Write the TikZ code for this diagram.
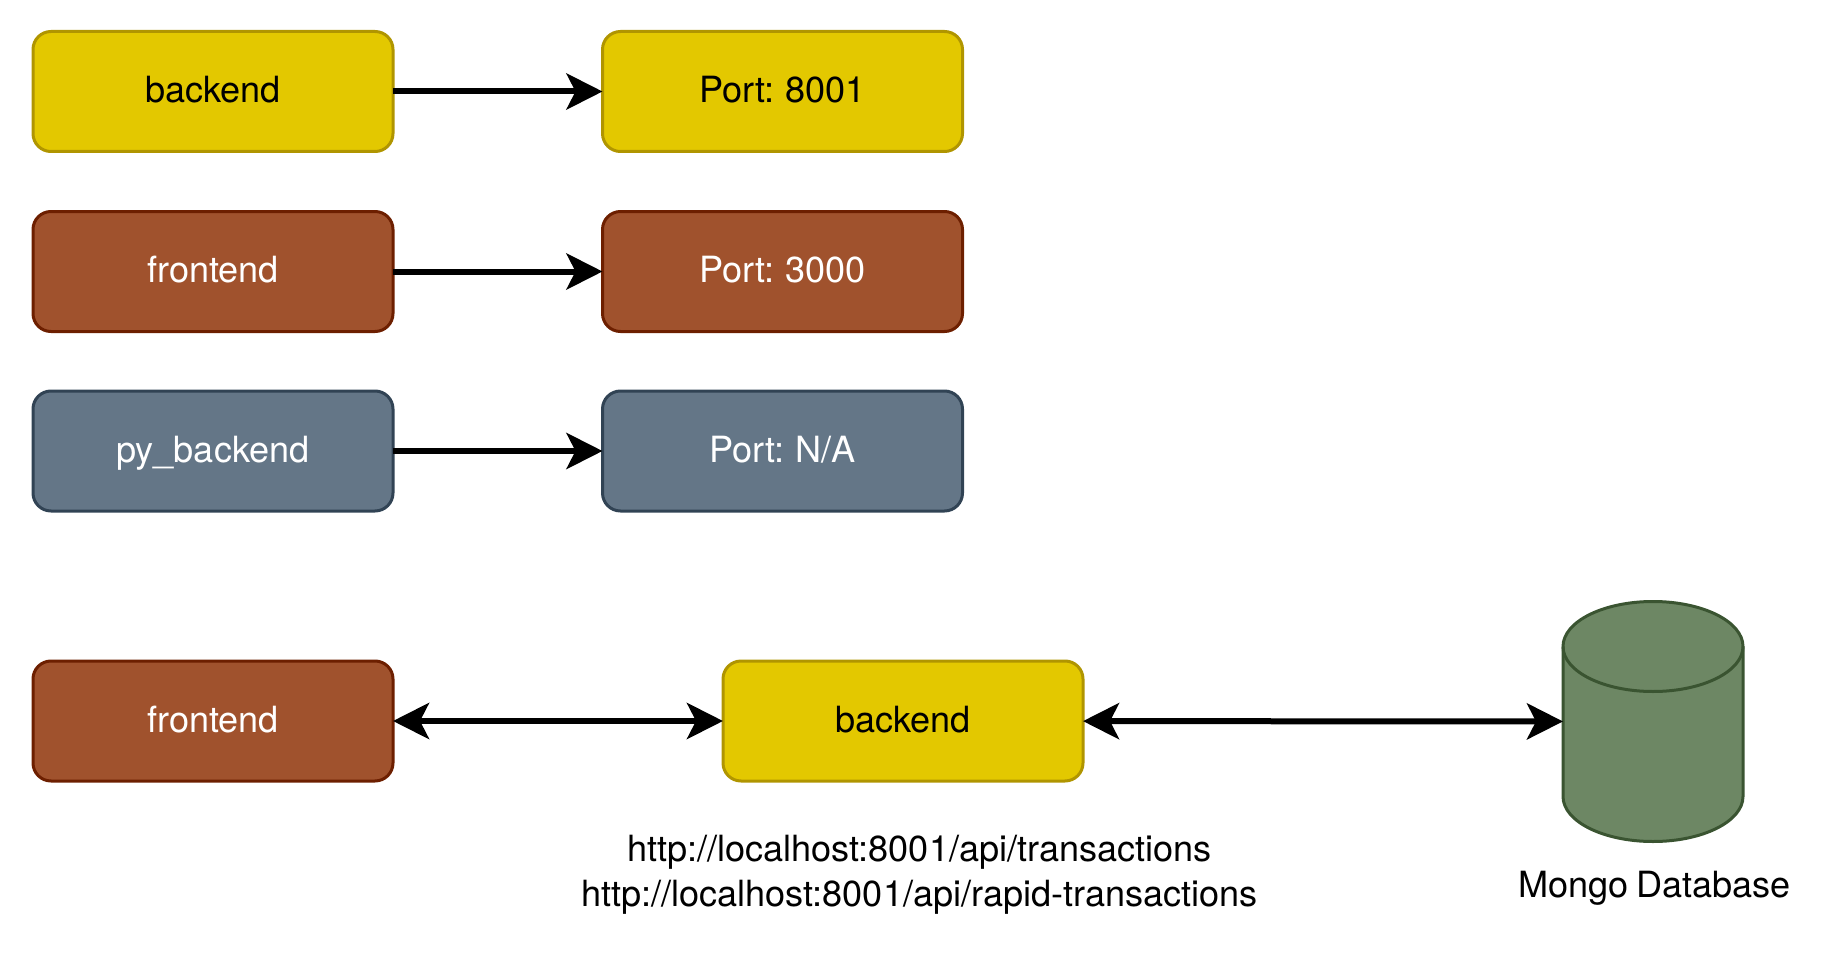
\documentclass[tikz,border=0pt]{standalone}
\usepackage{fontspec}
\setmainfont[WordSpace=0.8]{TeX Gyre Heros}
\usetikzlibrary{arrows.meta}
\definecolor{yellowfill}{HTML}{E3C800}
\definecolor{yellowline}{HTML}{B09500}
\definecolor{brownfill}{HTML}{A0522D}
\definecolor{brownline}{HTML}{6D1F00}
\definecolor{slatefill}{HTML}{647687}
\definecolor{slateline}{HTML}{314354}
\definecolor{greenfill}{HTML}{6D8764}
\definecolor{greenline}{HTML}{3A5431}
\tikzstyle{service}=[draw,line width=1.5pt,rounded corners=9pt,minimum width=180pt,minimum height=60pt,inner sep=0pt,outer sep=0pt,font=\fontsize{18.05}{22}\selectfont,text height=13pt,text depth=2pt]
\tikzstyle{yellowbox}=[service,fill=yellowfill,draw=yellowline,text=black]
\tikzstyle{brownbox}=[service,fill=brownfill,draw=brownline,text=white]
\tikzstyle{slatebox}=[service,fill=slatefill,draw=slateline,text=white]
\tikzstyle{database}=[minimum width=90pt,minimum height=120pt,inner sep=0pt,outer sep=0pt]
\tikzstyle{drum}=[draw=greenline,line width=1.5pt]
\tikzstyle{caption}=[font=\fontsize{18.05}{22.5}\selectfont,align=center,inner sep=0pt]
\tikzstyle{edge}=[draw,line width=3pt,-{Stealth[length=18pt,width=18pt,inset=4.5pt]}]
\tikzstyle{both}=[draw,line width=3pt,{Stealth[length=18pt,width=18pt,inset=4.5pt]}-{Stealth[length=18pt,width=18pt,inset=4.5pt]}]

\begin{document}
\begin{tikzpicture}[x=0.5pt,y=-0.5pt]
    \useasboundingbox (0,0) rectangle (1848,963);
    % First we draw the boxes
    \foreach \pos/\name/\look/\text in {{(213,91.5)/backA/yellowbox/backend}, {(782.5,91.5)/portA/yellowbox/{Port: 8001}},
        {(213,271.5)/frontA/brownbox/frontend}, {(782.5,271.5)/portB/brownbox/{Port: 3000}},
        {(213,451)/pyA/slatebox/py\_backend}, {(782.5,451)/portC/slatebox/{Port: N/A}},
        {(213,721)/frontB/brownbox/frontend}, {(903,721)/backB/yellowbox/backend}}
        \node[\look] (\name) at \pos {\text};
    % The database is a plain node with the drum drawn over it
    \node[database] (mongo) at (1653,721.5) {};
    \path[drum,fill=greenfill] ([yshift=-22.5pt]mongo.north west)
        arc[start angle=180,end angle=0,x radius=45pt,y radius=22.5pt]
        -- ([yshift=22.5pt]mongo.south east)
        arc[start angle=360,end angle=180,x radius=45pt,y radius=22.5pt] -- cycle;
    \path[drum] ([yshift=-22.5pt]mongo.north west)
        arc[start angle=180,end angle=360,x radius=45pt,y radius=22.5pt];
    % Connect boxes with arrows
    \foreach \source/\dest in {backA/portA,frontA/portB,pyA/portC}
        \path[edge] (\source) -- (\dest);
    \foreach \source/\dest in {frontB/backB,backB/mongo}
        \path[both] (\source) -- (\dest);
    % Then the free texts
    \node[caption] (urls) at (919.5,874.5) {http://localhost:8001/api/transactions\\http://localhost:8001/api/rapid-transactions};
    \node[caption] (mongotext) at (1654.5,888) {Mongo Database};
\end{tikzpicture}
\end{document}
